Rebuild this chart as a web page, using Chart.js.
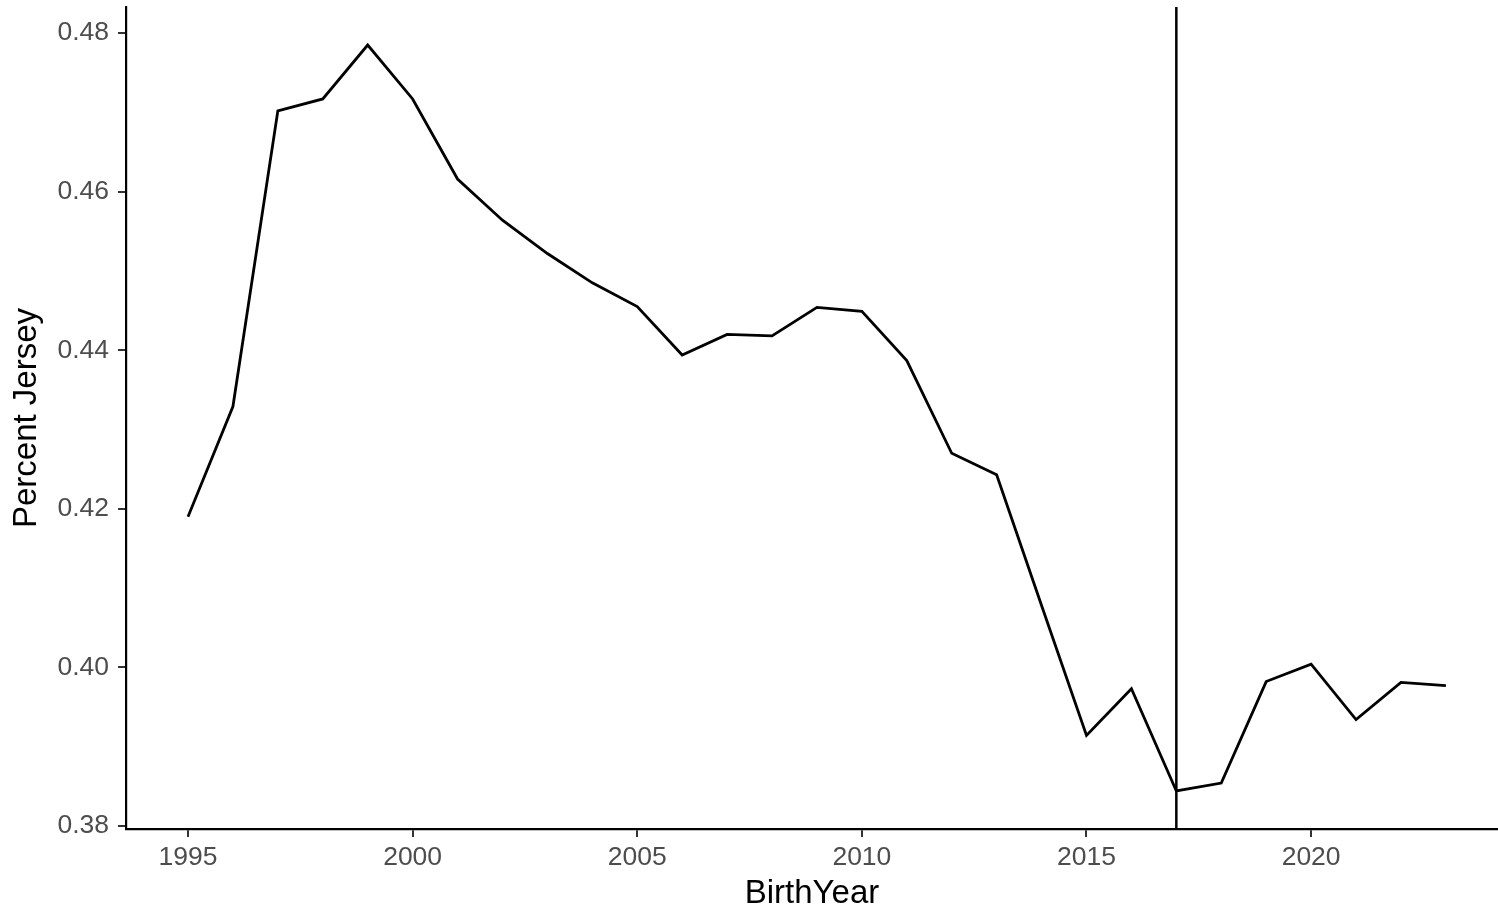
<!DOCTYPE html>
<html>
<head>
<meta charset="utf-8">
<script src="https://cdn.jsdelivr.net/npm/chart.js@4"></script>
<style>
  html, body { margin: 0; padding: 0; background: #fff; }
  #wrap { width: 1498px; height: 908px; }
</style>
</head>
<body>
<div id="wrap"><canvas id="jerseyChart" width="1498" height="908"></canvas></div>
<script>
/***********************
 * DATA
 ***********************/
const birthYears = [1995, 1996, 1997, 1998, 1999, 2000, 2001, 2002, 2003, 2004,
                    2005, 2006, 2007, 2008, 2009, 2010, 2011, 2012, 2013, 2014,
                    2015, 2016, 2017, 2018, 2019, 2020, 2021, 2022, 2023];
const percentJersey = [0.4190, 0.4329, 0.4702, 0.4717, 0.4785, 0.4717, 0.4616, 0.4564, 0.4522, 0.4485,
                       0.4455, 0.4394, 0.4420, 0.4418, 0.4454, 0.4449, 0.4387, 0.4270, 0.4243, 0.4078,
                       0.3914, 0.3973, 0.3844, 0.3854, 0.3982, 0.4004, 0.3934, 0.3981, 0.3977];
const markerYear = [2017];
const xTicks = [1995, 2000, 2005, 2010, 2015, 2020];
const yTicks = [0.38, 0.40, 0.42, 0.44, 0.46, 0.48];

// axis limits (ggplot style expansion)
const xMin = 1993.62, xMax = 2024.16;
const yMin = 0.3796, yMax = 0.4833;

/***********************
 * CHART
 ***********************/
Chart.defaults.font.family = "'Liberation Sans', Arial, sans-serif";

const series = birthYears.map((yr, i) => ({ x: yr, y: percentJersey[i] }));
const vline = [{ x: markerYear[0], y: yMin }, { x: markerYear[0], y: yMax }];

const tickFont = { size: 26.5 };
const titleFont = { size: 33, lineHeight: 1 };

new Chart(document.getElementById("jerseyChart"), {
  type: "line",
  data: {
    datasets: [
      {
        label: "Percent Jersey",
        data: series,
        borderColor: "#000",
        borderWidth: 2.8,
        pointRadius: 0,
        tension: 0
      },
      {
        label: "marker",
        data: vline,
        borderColor: "#000",
        borderWidth: 2.5,
        pointRadius: 0
      }
    ]
  },
  options: {
    responsive: false,
    animation: false,
    layout: { padding: { top: 7, left: 0, right: 0, bottom: 0 } },
    plugins: { legend: { display: false }, tooltip: { enabled: false } },
    scales: {
      x: {
        type: "linear",
        min: xMin,
        max: xMax,
        afterBuildTicks: s => { s.ticks = xTicks.map(v => ({ value: v })); },
        afterFit: s => {
          s.height = 79;
          s.paddingLeft = 0; s.paddingRight = 0;
        },
        ticks: {
          callback: v => String(v),
          color: "#4D4D4D",
          font: tickFont,
          padding: 5,
          maxRotation: 0
        },
        grid: { drawOnChartArea: false, drawTicks: true, tickLength: 8, color: "#333", lineWidth: 2 },
        border: { display: true, color: "#000", width: 2.2 },
        title: { display: true, text: "BirthYear", color: "#000", font: titleFont, padding: { top: 0, bottom: -2 } }
      },
      y: {
        type: "linear",
        min: yMin,
        max: yMax,
        afterBuildTicks: s => { s.ticks = yTicks.map(v => ({ value: v })); },
        afterFit: s => {
          s.width = 126;
          s.paddingTop = 0; s.paddingBottom = 0;
        },
        ticks: {
          callback: v => v.toFixed(2),
          color: "#4D4D4D",
          font: tickFont,
          padding: 9
        },
        grid: { drawOnChartArea: false, drawTicks: true, tickLength: 8, color: "#333", lineWidth: 2 },
        border: { display: true, color: "#000", width: 2.2 },
        title: { display: true, text: "Percent Jersey", color: "#000", font: titleFont, padding: { top: 10, bottom: 0 } }
      }
    }
  }
});
</script>
</body>
</html>
